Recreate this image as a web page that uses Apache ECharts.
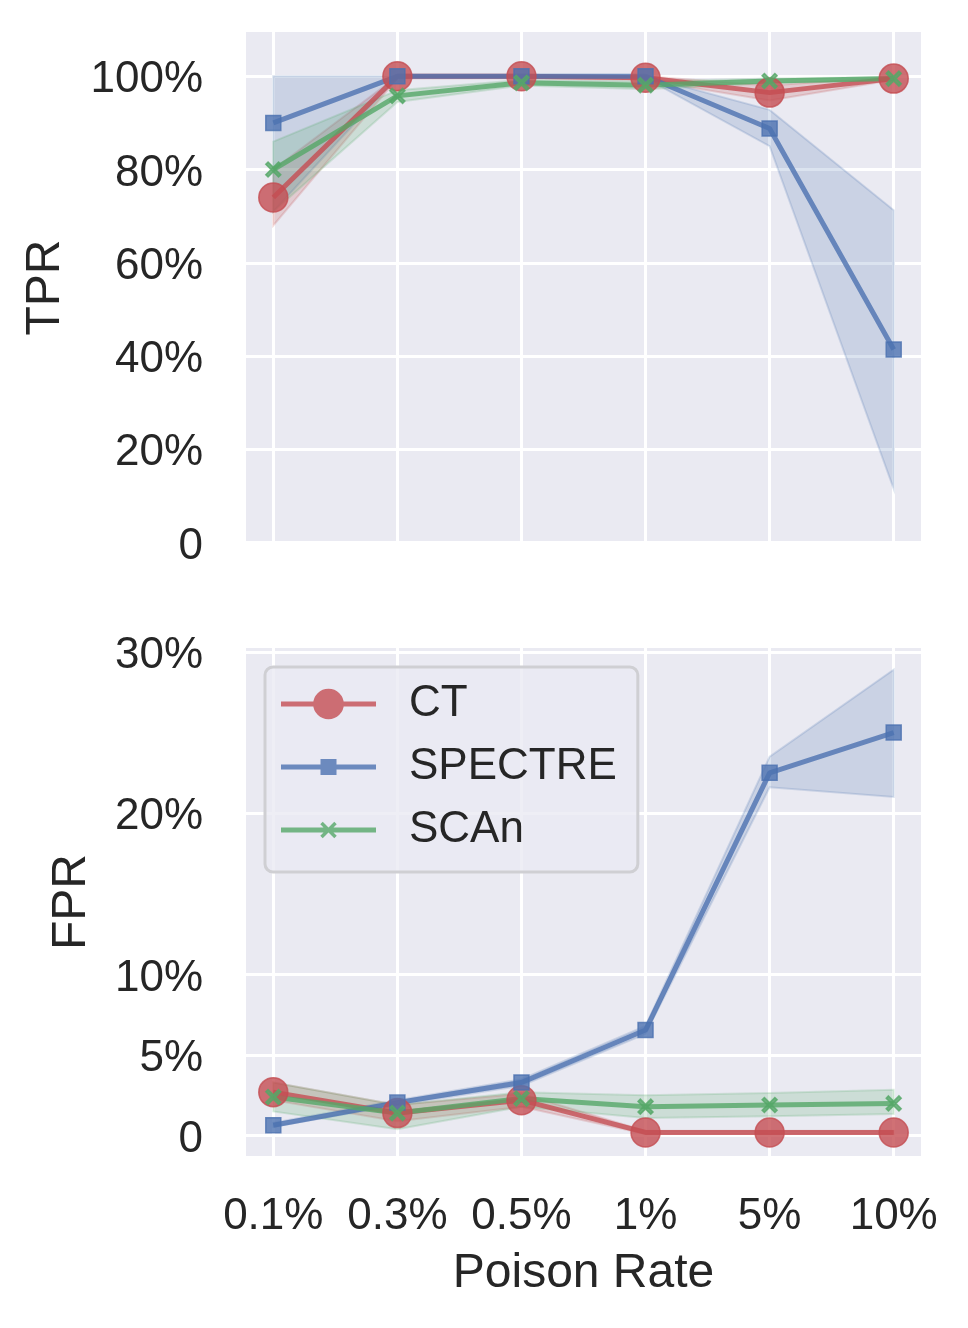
<!DOCTYPE html>
<html>
<head>
<meta charset="utf-8">
<script src="https://cdn.jsdelivr.net/npm/echarts@6/dist/echarts.min.js"></script>
<style>html,body{margin:0;padding:0;background:#fff}#c{width:968px;height:1328px}</style>
</head>
<body>
<div id="c"></div>
<script>
// ---- data (percent) ----
var categories = ['0.1%', '0.3%', '0.5%', '1%', '5%', '10%'];
var tprTicks = [0, 20, 40, 60, 80, 100];
var fprTicks = [0, 5, 10, 20, 30];

var tprCT   = [74.0, 100, 100, 99.7, 96.5, 99.5];
var tprCTlo = [68.0, 99.5, 99.6, 99.2, 94.8, 99.2];
var tprCThi = [80.0, 100, 100, 100, 98.0, 99.9];
var tprSP   = [90.0, 100, 100, 100, 88.8, 41.4];
var tprSPlo = [71.0, 99.8, 99.8, 99.6, 85.0, 11.5];
var tprSPhi = [100, 100, 100, 100, 92.8, 71.3];
var tprSC   = [80.0, 95.8, 98.6, 98.1, 99.0, 99.5];
var tprSClo = [71.0, 94.5, 98.0, 97.2, 98.5, 99.2];
var tprSChi = [86.0, 97.0, 99.2, 98.9, 99.5, 99.8];

var fprCT   = [2.7, 1.4, 2.2, 0.2, 0.2, 0.2];
var fprCTlo = [2.2, 0.9, 1.8, 0.1, 0.1, 0.1];
var fprCThi = [3.3, 1.9, 2.6, 0.3, 0.3, 0.3];
var fprSP   = [0.65, 2.05, 3.3, 6.55, 22.5, 25.0];
var fprSPlo = [0.55, 1.9, 3.1, 6.3, 21.6, 21.0];
var fprSPhi = [0.8, 2.2, 3.5, 6.8, 23.5, 28.9];
var fprSC   = [2.4, 1.4, 2.3, 1.8, 1.9, 2.0];
var fprSClo = [1.5, 0.4, 1.8, 1.1, 1.2, 1.35];
var fprSChi = [3.3, 1.9, 2.7, 2.5, 2.65, 2.85];

// ---- styling ----
var RED = [196, 78, 82], BLUE = [76, 114, 176], GREEN = [85, 168, 104];
function rgba(c, a) { return 'rgba(' + c[0] + ',' + c[1] + ',' + c[2] + ',' + a + ')'; }
var FONT = 'Liberation Sans, Arial, sans-serif';
var TXT = '#262626';

var X_PATH = 'path://M-5.76,-8.24 L8.24,5.76 L5.76,8.24 L-8.24,-5.76 Z M-5.76,8.24 L-8.24,5.76 L5.76,-8.24 L8.24,-5.76 Z';

function lineRect() { return 'M0,16.6 L95,16.6 L95,21.4 L0,21.4 Z '; }
var ICON_CT = 'path://' + lineRect() + 'M32.15,19 A15.35,15.35 0 1 1 62.85,19 A15.35,15.35 0 1 1 32.15,19 Z';
var ICON_SP = 'path://' + lineRect() + 'M39.5,11 L55.5,11 L55.5,27 L39.5,27 Z';
var ICON_SC = 'path://' + lineRect() +
  'M41.74,10.76 L55.74,24.76 L53.26,27.24 L39.26,13.24 Z M41.74,27.24 L39.26,24.76 L53.26,10.76 L55.74,13.24 Z';

function pairs(arr) { return arr.map(function (v, i) { return [i, v]; }); }

function band(lo, hi, col, idx) {
  return {
    type: 'custom', xAxisIndex: idx, yAxisIndex: idx, z: 1, silent: true,
    data: [[0, lo[0]]],
    encode: { x: 0, y: 1 },
    renderItem: function (params, api) {
      var pts = [], i;
      for (i = 0; i < hi.length; i++) pts.push(api.coord([i, hi[i]]));
      for (i = lo.length - 1; i >= 0; i--) pts.push(api.coord([i, lo[i]]));
      return { type: 'polygon', shape: { points: pts },
        style: { fill: rgba(col, 0.2), stroke: rgba(col, 0.2), lineWidth: 2 } };
    }
  };
}

function line(name, vals, col, idx, symbol, size) {
  return {
    type: 'line', name: name, xAxisIndex: idx, yAxisIndex: idx, z: 2,
    data: pairs(vals), symbol: symbol, symbolSize: size, showSymbol: true,
    lineStyle: { color: rgba(col, 0.8), width: 5 },
    itemStyle: { color: rgba(col, 0.8), borderColor: rgba(col, 0.8), borderWidth: 1.5 },
    emphasis: { disabled: true }
  };
}

function xAxis(idx, showLabels) {
  return {
    type: 'value', gridIndex: idx, min: -0.22, max: 5.22,
    axisLine: { show: false },
    axisTick: { show: false, customValues: [0, 1, 2, 3, 4, 5] },
    splitLine: { show: true, lineStyle: { color: '#ffffff', width: 3 } },
    axisLabel: {
      show: showLabels, customValues: [0, 1, 2, 3, 4, 5], margin: 39,
      fontSize: 44, color: TXT, fontFamily: FONT,
      formatter: function (v) { return categories[Math.round(v)]; }
    },
    name: showLabels ? 'Poison Rate' : '', nameLocation: 'middle', nameGap: 94,
    nameTextStyle: { fontSize: 48, color: TXT, fontFamily: FONT }
  };
}

function yAxis(idx, min, max, ticks, name, gap) {
  return {
    type: 'value', gridIndex: idx, min: min, max: max,
    axisLine: { show: false },
    axisTick: { show: false, customValues: ticks },
    splitLine: { show: true, lineStyle: { color: '#ffffff', width: 3 } },
    axisLabel: {
      customValues: ticks, margin: 43, fontSize: 44, color: TXT, fontFamily: FONT,
      formatter: function (v) { return '{t|' + (v === 0 ? '0' : v + '%') + '}'; },
      rich: { t: { fontSize: 44, color: TXT, fontFamily: FONT, padding: [8, 0, 0, 0] } }
    },
    name: name, nameLocation: 'middle', nameGap: gap,
    nameTextStyle: { fontSize: 48, color: TXT, fontFamily: FONT }
  };
}

var chart = echarts.init(document.getElementById('c'), null, { renderer: 'canvas' });
chart.setOption({
  animation: false,
  backgroundColor: '#ffffff',
  grid: [
    { left: 246, top: 32, width: 675, height: 511, show: true, backgroundColor: '#EAEAF2', borderWidth: 0 },
    { left: 246, top: 648, width: 675, height: 508, show: true, backgroundColor: '#EAEAF2', borderWidth: 0 }
  ],
  xAxis: [xAxis(0, false), xAxis(1, true)],
  yAxis: [
    yAxis(0, -0.1, 109.5, tprTicks, 'TPR', 176),
    yAxis(1, -1.26, 30.24, fprTicks, 'FPR', 150)
  ],
  legend: {
    orient: 'vertical', left: 265, top: 667,
    padding: [15, 21, 20, 16], itemGap: 19,
    itemWidth: 95, itemHeight: 38,
    backgroundColor: 'rgba(234,234,242,0.8)', borderColor: '#cfcfd3', borderWidth: 3, borderRadius: 8,
    textStyle: { fontSize: 44, color: TXT, fontFamily: FONT, padding: [4, 0, 0, 28] },
    selectedMode: false,
    data: [
      { name: 'CT', icon: ICON_CT, itemStyle: { color: rgba(RED, 0.8), borderWidth: 0 } },
      { name: 'SPECTRE', icon: ICON_SP, itemStyle: { color: rgba(BLUE, 0.8), borderWidth: 0 } },
      { name: 'SCAn', icon: ICON_SC, itemStyle: { color: rgba(GREEN, 0.8), borderWidth: 0 } }
    ]
  },
  series: [
    band(tprCTlo, tprCThi, RED, 0),
    band(tprSPlo, tprSPhi, BLUE, 0),
    band(tprSClo, tprSChi, GREEN, 0),
    line('CT', tprCT, RED, 0, 'circle', 29),
    line('SPECTRE', tprSP, BLUE, 0, 'rect', 15),
    line('SCAn', tprSC, GREEN, 0, X_PATH, 15),
    band(fprCTlo, fprCThi, RED, 1),
    band(fprSPlo, fprSPhi, BLUE, 1),
    band(fprSClo, fprSChi, GREEN, 1),
    line('CT', fprCT, RED, 1, 'circle', 29),
    line('SPECTRE', fprSP, BLUE, 1, 'rect', 15),
    line('SCAn', fprSC, GREEN, 1, X_PATH, 15)
  ]
});
</script>
</body>
</html>
